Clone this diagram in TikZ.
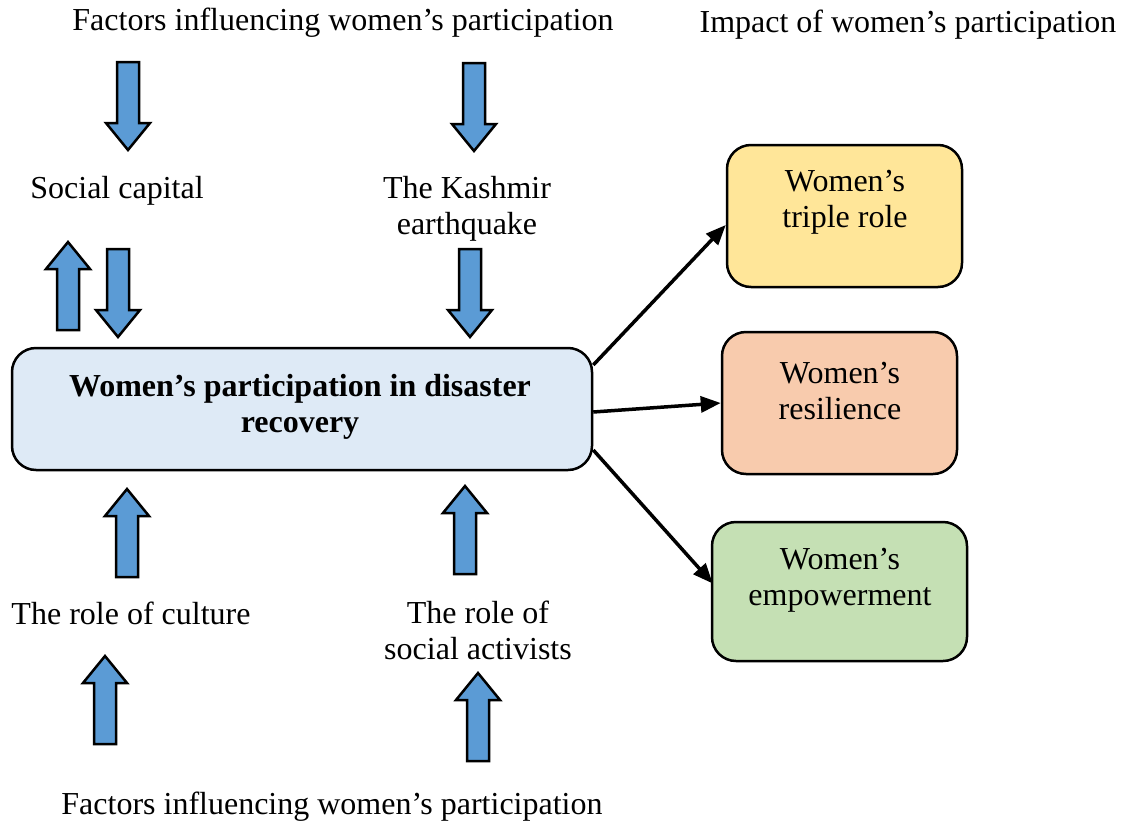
\documentclass[tikz,border=0pt]{standalone}
\usepackage{fontspec}
\setmainfont{Liberation Serif}
\usetikzlibrary{arrows.meta}
\definecolor{arrowblue}{HTML}{5B9BD5}
\definecolor{mainfill}{HTML}{DEEAF6}
\definecolor{rolefill}{HTML}{FFE699}
\definecolor{resfill}{HTML}{F8CBAD}
\definecolor{empfill}{HTML}{C5E0B4}
\begin{document}
\begin{tikzpicture}[x=1pt,y=-1pt,
  txt/.style={font=\fontsize{32}{36}\selectfont, align=center, inner sep=0pt},
  box/.style={draw=black, line width=2.5pt, rounded corners=24pt, inner sep=0pt},
  link/.style={line width=3.5pt, -{Triangle[length=20pt,width=16pt]}},
  blockarrow/.pic={
    \path[draw=black, line width=2.5pt, fill=arrowblue, line join=miter]
      (-11,44) -- (-11,-17) -- (-22,-17) -- (0,-44) -- (22,-17) -- (11,-17) -- (11,44) -- cycle;}
]
\useasboundingbox (0,0) rectangle (1122,822);

% headings
\node[txt] (topfactors) at (343,23) {Factors influencing women's participation};
\node[txt] (impact) at (908,25) {Impact of women's participation};
\node[txt] (botfactors) at (332,807) {Factors influencing women's participation};

% factor labels
\node[txt] (social) at (117,191) {Social capital};
\node[txt] (kashmir) at (467,209) {The Kashmir\\earthquake};
\node[txt] (culture) at (131,613) {The role of culture};
\node[txt] (activists) at (478,630) {The role of\\social activists};

% central box
\node[box, fill=mainfill, minimum width=580pt, minimum height=122pt] (main) at (302,409) {};
\node[txt, font=\fontsize{32}{36}\selectfont\bfseries] (maintext) at (300,407) {Women's participation in disaster\\recovery};

% impact boxes
\node[box, fill=rolefill, minimum width=235pt, minimum height=142pt] (role) at (844.5,216) {};
\node[txt] (roletext) at (845,202) {Women's\\triple role};
\node[box, fill=resfill, minimum width=235pt, minimum height=142pt] (res) at (839.5,403) {};
\node[txt] (restext) at (840,391) {Women's\\resilience};
\node[box, fill=empfill, minimum width=255pt, minimum height=139pt] (emp) at (839.5,591.5) {};
\node[txt] (emptext) at (840,580) {Women's\\empowerment};

% block arrows
\pic[rotate=180] at (128,106) {blockarrow};
\pic[rotate=180] at (474,107) {blockarrow};
\pic at (68,286) {blockarrow};
\pic[rotate=180] at (118,293) {blockarrow};
\pic[rotate=180] at (470,293) {blockarrow};
\pic at (127,533) {blockarrow};
\pic at (465,530) {blockarrow};
\pic at (105,700) {blockarrow};
\pic at (478,717) {blockarrow};

% connectors
\draw[link] ([yshift=44pt]main.east) -- ([yshift=-9pt]role.west);
\draw[link] ([yshift=-3pt]main.east) -- (res.west);
\draw[link] ([yshift=-41pt]main.east) -- ([yshift=8pt, xshift=2pt]emp.west);
\end{tikzpicture}
\end{document}
